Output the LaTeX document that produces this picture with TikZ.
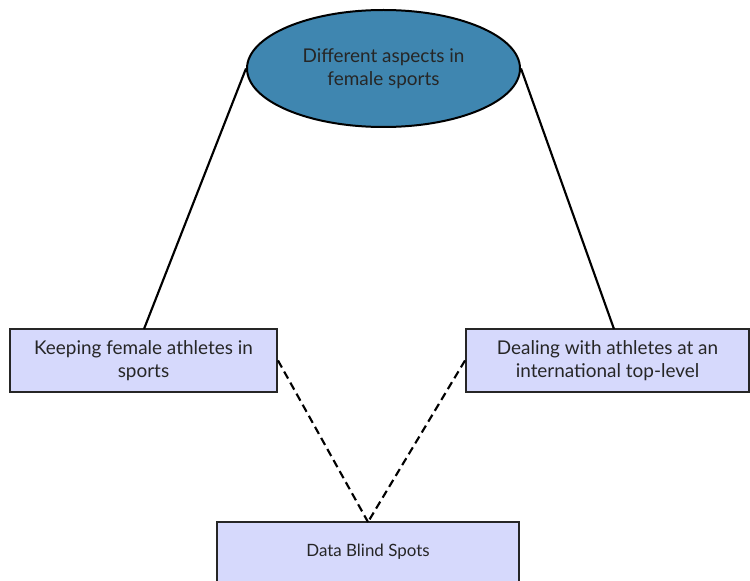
\documentclass[tikz,border=0pt]{standalone}
\usepackage{fontspec}
\setmainfont{Lato}
\usetikzlibrary{shapes.geometric}
\definecolor{topblue}{HTML}{3F86B0}
\definecolor{boxfill}{HTML}{D6D9FC}
\definecolor{txt}{HTML}{262626}
\tikzset{
  topic/.style={ellipse, draw=black, line width=1.5pt, fill=topblue,
    minimum width=273*0.75pt, minimum height=117*0.75pt, inner sep=0pt,
    text=txt, align=center, font=\fontsize{14.2}{17}\selectfont},
  aspectbox/.style={rectangle, draw=black!85, line width=1.5pt, fill=boxfill,
    minimum height=63*0.75pt, inner sep=0pt, text=txt, align=center,
    font=\fontsize{14.2}{17}\selectfont},
  solidlink/.style={line width=1.6pt, black},
  dashlink/.style={line width=1.6pt, black, dashed, dash pattern=on 6pt off 3.5pt}
}
\begin{document}
\begin{tikzpicture}[x=0.75pt, y=-0.75pt]
\useasboundingbox (0,0) rectangle (750,581);
\node[topic] (top) at (383.5,68.5) {Different aspects in\\female sports};
\node[aspectbox, minimum width=267*0.75pt] (keep) at (143.5,360.5) {Keeping female athletes in\\sports};
\node[aspectbox, minimum width=283*0.75pt] (deal) at (607.5,360.5) {Dealing with athletes at an\\international top-level};
\node[aspectbox, minimum width=302*0.75pt, minimum height=60*0.75pt,
  font=\fontsize{12.7}{15}\selectfont] (blind) at (368,552) {Data Blind Spots};
\coordinate (keeptop) at (144,329);
\coordinate (dealtop) at (614,329);
\coordinate (blindtop) at (368,522);
\draw[solidlink] (top.west) -- (keeptop);
\draw[solidlink] (top.east) -- (dealtop);
\draw[dashlink] (keep.east) -- (blindtop);
\draw[dashlink] (deal.west) -- (blindtop);
\end{tikzpicture}
\end{document}
